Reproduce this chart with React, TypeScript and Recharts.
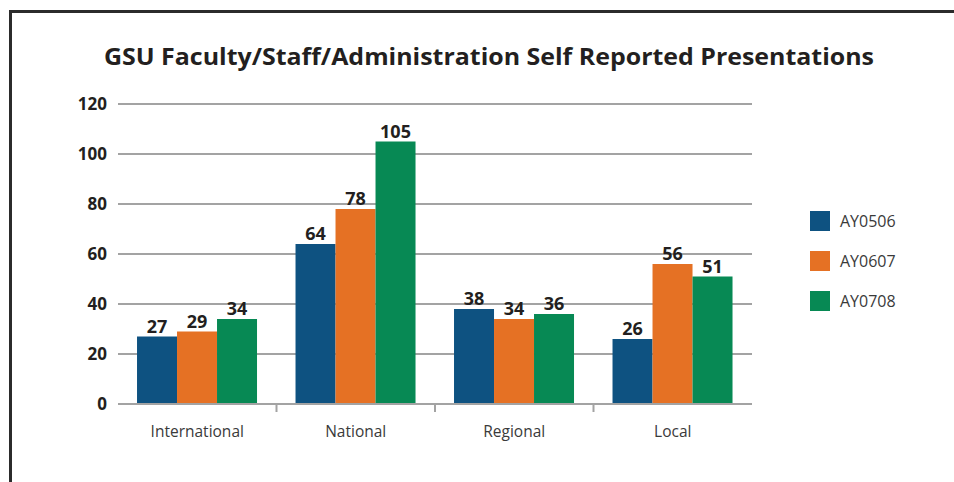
import React from 'react';
import { BarChart, Bar, XAxis, YAxis, CartesianGrid, LabelList, Legend } from 'recharts';

const categories = ['International', 'National', 'Regional', 'Local'];
const ay0506 = [27, 64, 38, 26];
const ay0607 = [29, 78, 34, 56];
const ay0708 = [34, 105, 36, 51];
const yTicks = [0, 20, 40, 60, 80, 100, 120];
const seriesNames = ['AY0506', 'AY0607', 'AY0708'];
const seriesColors = ['#0E5281', '#E57124', '#078954'];
const titleText = 'GSU Faculty/Staff/Administration Self Reported Presentations';

const data = categories.map((c, i) => ({
  category: c,
  AY0506: ay0506[i],
  AY0607: ay0607[i],
  AY0708: ay0708[i],
}));

const FONT = '"Open Sans", "Noto Sans", sans-serif';

const XTick = (props: any) => {
  const { x, y, payload, index } = props;
  const half = payload && typeof payload.offset === 'number' && payload.offset > 0 ? payload.offset : 79;
  return (
    <g>
      {index > 0 && (
        <line x1={x - half} x2={x - half} y1={y} y2={y + 8} stroke="#A3A3A3" strokeWidth={2} />
      )}
      <text x={x} y={y + 33} textAnchor="middle" fontFamily={FONT} fontSize={15.5} fill="#3A3A3A">
        {payload.value}
      </text>
    </g>
  );
};

const LegendContent = () => (
  <div style={{ position: 'relative', width: 0, height: 0 }}>
    {seriesNames.map((n, i) => (
      <div
        key={n}
        style={{
          position: 'absolute',
          left: 0,
          top: i * 40,
          display: 'flex',
          alignItems: 'center',
          whiteSpace: 'nowrap',
          height: 20,
        }}
      >
        <div style={{ width: 20, height: 20, background: seriesColors[i] }} />
        <span style={{ marginLeft: 10, fontFamily: FONT, fontSize: 16, color: '#3A3A3A' }}>{n}</span>
      </div>
    ))}
  </div>
);

export default function App() {
  return (
    <div style={{ position: 'absolute', left: 0, top: 0, width: 954, height: 482, background: '#fff', overflow: 'hidden' }}>
      <div
        style={{
          position: 'absolute',
          left: 9,
          top: 10,
          width: 960,
          height: 500,
          borderTop: '3px solid #2B2B2B',
          borderLeft: '3px solid #2B2B2B',
        }}
      />
      <svg style={{ position: 'absolute', left: 0, top: 0 }} width={954} height={90}>
        <text
          x={489}
          y={65}
          textAnchor="middle"
          fontFamily={FONT}
          fontWeight={700}
          fontSize={23}
          fill="#231F20"
          textLength={770}
          lengthAdjust="spacingAndGlyphs"
        >
          {titleText}
        </text>
      </svg>
      <div style={{ position: 'absolute', left: 0, top: 0 }}>
        <BarChart
          width={954}
          height={482}
          data={data}
          margin={{ top: 104, right: 202, bottom: 48, left: 0 }}
          barCategoryGap="12%"
          barGap={0}
        >
          <CartesianGrid vertical={false} stroke="#A3A3A3" strokeWidth={2} />
          <XAxis
            dataKey="category"
            height={30}
            axisLine={{ stroke: '#A3A3A3', strokeWidth: 2 }}
            tickLine={false}
            tickSize={0}
            tickMargin={0}
            tick={<XTick />}
            interval={0}
          />
          <YAxis
            width={118}
            domain={[0, 120]}
            ticks={yTicks}
            axisLine={false}
            tickLine={false}
            tickSize={0}
            tickMargin={11}
            tick={{ fontFamily: FONT, fontSize: 17, fontWeight: 700, fill: '#231F20' }}
          />
          <Legend
            content={<LegendContent />}
            wrapperStyle={{ position: 'absolute', left: 810, top: 211, width: 0, height: 0 }}
          />
          {seriesNames.map((n, i) => (
            <Bar key={n} dataKey={n} fill={seriesColors[i]} isAnimationActive={false}>
              <LabelList
                dataKey={n}
                position="top"
                offset={4}
                fontFamily={FONT}
                fontSize={18}
                fontWeight={700}
                fill="#231F20"
              />
            </Bar>
          ))}
        </BarChart>
      </div>
    </div>
  );
}
